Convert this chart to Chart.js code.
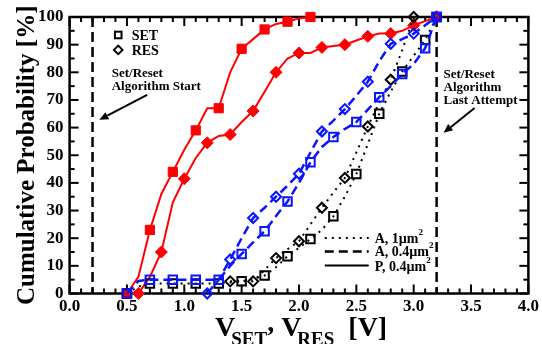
<!DOCTYPE html>
<html><head><meta charset="utf-8">
<script src="https://cdn.jsdelivr.net/npm/chart.js@4"></script>
<style>html,body{margin:0;padding:0;background:#fff}#wrap{width:542px;height:344px;position:relative}</style>
</head><body><div id="wrap"><canvas id="c" width="542" height="344"></canvas></div>
<script>
// ---- data ----
const xTicks = [0, 0.5, 1, 1.5, 2, 2.5, 3, 3.5, 4];
const yTicks = [0, 10, 20, 30, 40, 50, 60, 70, 80, 90, 100];
const algorithmLines = [0.2, 3.2];

// P, 0.4um^2 (red, solid)
const pSetV    = [0.5,0.6,0.7,0.8,0.9,1.0,1.1,1.2,1.3,1.4,1.5,1.6,1.7,1.8,1.9,2.0,2.1];
const pSetProb = [0,6,23,36,44,52,59,67,67,80,88.5,92,95.5,97.5,98.3,99.5,100];
const pResV    = [0.6,0.7,0.8,0.9,1.0,1.1,1.2,1.3,1.4,1.5,1.6,1.7,1.8,1.9,2.0,2.1,2.2,2.3,2.4,2.5,2.6,2.7,2.8,2.9,3.0,3.1,3.2];
const pResProb = [0,6,15,33,41.5,49,54.5,57,57.5,62,66,73,80,85,87,87,89,89.5,90,91.5,93,94,94,95,97,98.5,100];

// A, 0.4um^2 (blue, dashed)
const a04SetV    = [0.5,0.6,0.7,0.8,0.9,1.0,1.1,1.2,1.3,1.4,1.5,1.6,1.7,1.8,1.9,2.0,2.1,2.2,2.3,2.4,2.5,2.6,2.7,2.8,2.9,3.0,3.1,3.2];
const a04SetProb = [0,4.5,5,5,5,5,5,5,5,10,14.3,18.5,22.5,28,33.3,40,47.5,53,56.6,59.5,62,66.5,71,75,79.4,83,88.7,100];
const a04ResV    = [1.2,1.3,1.4,1.5,1.6,1.7,1.8,1.9,2.0,2.1,2.2,2.3,2.4,2.5,2.6,2.7,2.8,2.9,3.0,3.1,3.2];
const a04ResProb = [0,5,12.3,20,27.3,31,35,39,43.3,51,58.6,62.5,66.7,71.5,76.6,84,90.3,92,94,97,100];

// A, 1um^2 (black, dotted)
const a1SetV    = [0.5,0.6,0.7,0.8,0.9,1.0,1.1,1.2,1.3,1.4,1.5,1.6,1.7,1.8,1.9,2.0,2.1,2.2,2.3,2.4,2.5,2.6,2.7,2.8,2.9,3.0,3.1,3.2];
const a1SetProb = [0,2.5,3.6,3.6,3.6,3.6,3.6,3.6,3.6,4,4.4,5.2,6.5,9.5,13.5,16.5,19.7,23,27.9,35,43.2,54,65,73,80.3,86,91.7,100];
const a1ResV    = [1.4,1.5,1.6,1.7,1.8,1.9,2.0,2.1,2.2,2.3,2.4,2.5,2.6,2.7,2.8,2.9,3.0,3.1,3.2];
const a1ResProb = [4.4,4.4,4.4,8.5,12.8,16,18.9,25,31,36.5,41.8,51,60.4,69,77.3,88,100,100,100];

// ---- styling ----
const FF = '"Liberation Serif", "Times New Roman", serif';
const RED = '#ff0000', BLUE = '#0a14ff', BLACK = '#000000';
const markEvery = (R) => (ctx) => {
  const n = ctx.dataset.data.length;
  return (ctx.dataIndex % 2 === 0 || ctx.dataIndex === n - 1) ? R : 0;
};
function series(label, xs, ys, color, opts) {
  return Object.assign({
    label,
    data: xs.map((v, i) => ({x: v, y: ys[i]})),
    borderColor: color,
    pointBorderColor: color,
    pointBackgroundColor: 'rgba(0,0,0,0)',
    pointBorderWidth: 2,
    tension: 0,
    clip: false,
    pointHoverRadius: 0
  }, opts);
}
const datasets = [
  series('A04 SET', a04SetV, a04SetProb, BLUE, {borderWidth: 2.5, borderDash: [9,5], pointStyle: 'rect', pointRadius: markEvery(6)}),
  series('A04 RES', a04ResV, a04ResProb, BLUE, {borderWidth: 2.5, borderDash: [9,5], pointStyle: 'rectRot', pointRadius: markEvery(5)}),
  series('A1 SET', a1SetV, a1SetProb, BLACK, {borderWidth: 2, borderDash: [2,5], pointStyle: 'rect', pointRadius: markEvery(6)}),
  series('A1 RES', a1ResV, a1ResProb, BLACK, {borderWidth: 2, borderDash: [2,5], pointStyle: 'rectRot', pointRadius: markEvery(5)}),
  series('P SET', pSetV, pSetProb, RED, {borderWidth: 2, pointStyle: 'rect', pointRadius: markEvery(6.5), pointBackgroundColor: RED, pointBorderWidth: 1}),
  series('P RES', pResV, pResProb, RED, {borderWidth: 2, pointStyle: 'rectRot', pointRadius: markEvery(6), pointBackgroundColor: RED, pointBorderWidth: 1})
];

function line(ctx, x1, y1, x2, y2) { ctx.beginPath(); ctx.moveTo(x1, y1); ctx.lineTo(x2, y2); ctx.stroke(); }
function arrow(ctx, x1, y1, x2, y2) {
  ctx.lineWidth = 2; ctx.strokeStyle = '#000'; ctx.fillStyle = '#000';
  const ang = Math.atan2(y2 - y1, x2 - x1), L = 9, W = 4;
  const bx = x2 - L * Math.cos(ang), by = y2 - L * Math.sin(ang);
  line(ctx, x1, y1, bx, by);
  ctx.beginPath();
  ctx.moveTo(x2, y2);
  ctx.lineTo(bx + W * Math.sin(ang), by - W * Math.cos(ang));
  ctx.lineTo(bx - W * Math.sin(ang), by + W * Math.cos(ang));
  ctx.closePath(); ctx.fill();
}
function runs(ctx, parts, x, base) {
  for (const p of parts) {
    ctx.font = 'bold ' + p.size + 'px ' + FF;
    x += (p.dx || 0);
    ctx.fillText(p.t, x, base + (p.dy || 0));
    x += ctx.measureText(p.t).width;
  }
  return x;
}

const decor = {
  id: 'decor',
  beforeDatasetsDraw(chart) {
    const {ctx, chartArea: a, scales: {x, y}} = chart;
    ctx.save();
    ctx.strokeStyle = '#000';
    ctx.lineWidth = 2.5; ctx.setLineDash([10, 5]);
    for (const v of algorithmLines) { const px = x.getPixelForValue(v); line(ctx, px, a.top, px, a.bottom); }
    ctx.setLineDash([]);
    ctx.lineWidth = 2;
    for (let i = 0; i <= 40; i++) {
      const px = x.getPixelForValue(i / 10), L = i % 5 === 0 ? 9 : 5;
      line(ctx, px, a.bottom, px, a.bottom - L); line(ctx, px, a.top, px, a.top + L);
    }
    for (let i = 0; i <= 20; i++) {
      const py = y.getPixelForValue(i * 5), L = i % 2 === 0 ? 9 : 5;
      line(ctx, a.left, py, a.left + L, py); line(ctx, a.right, py, a.right - L, py);
    }
    ctx.lineWidth = 2.5;
    ctx.strokeRect(a.left, a.top, a.right - a.left, a.bottom - a.top);
    ctx.restore();
  },
  afterDraw(chart) {
    const {ctx, scales: {x, y}} = chart;
    const X = v => x.getPixelForValue(v), Y = v => y.getPixelForValue(v);
    ctx.save();
    ctx.fillStyle = '#000'; ctx.strokeStyle = '#000';
    ctx.textAlign = 'left'; ctx.textBaseline = 'alphabetic';
    // top-left marker legend
    ctx.lineWidth = 2;
    ctx.strokeRect(X(0.424) - 3.3, Y(93.5) - 3.3, 6.6, 6.6);
    const dx0 = X(0.424), dy0 = Y(88.1);
    ctx.beginPath(); ctx.moveTo(dx0 - 4.3, dy0); ctx.lineTo(dx0, dy0 - 4.3); ctx.lineTo(dx0 + 4.3, dy0); ctx.lineTo(dx0, dy0 + 4.3); ctx.closePath(); ctx.stroke();
    ctx.font = 'bold 14px ' + FF;
    ctx.fillText('SET', X(0.541), Y(91.6));
    ctx.fillText('RES', X(0.541), Y(86.3));
    // annotations
    ctx.font = 'bold 13px ' + FF;
    ctx.fillText('Set/Reset', X(0.367), Y(78.3));
    ctx.fillText('Algorithm Start', X(0.367), Y(73.5));
    arrow(ctx, X(0.676), Y(71.8), X(0.259), Y(62.8));
    ctx.font = 'bold 13px ' + FF;
    ctx.fillText('Set/Reset', X(3.26), Y(78.0));
    ctx.fillText('Algorithm', X(3.26), Y(73.1));
    ctx.fillText('Last Attempt', X(3.26), Y(68.4));
    arrow(ctx, X(3.531), Y(67.1), X(3.261), Y(58.1));
    // line-style legend
    const lx1 = X(2.225), lx2 = X(2.608), tx = X(2.66);
    const rows = [[[2,5], 2, 'A, 1\u00b5m', 20.1, 18.3], [[9,5], 2.5, 'A, 0.4\u00b5m', 15.2, 13.4], [[], 2, 'P, 0.4\u00b5m', 10.1, 8.2]];
    for (const [dash, w, txt, ly, ty] of rows) {
      ctx.setLineDash(dash); ctx.lineWidth = w;
      line(ctx, lx1, Y(ly), lx2, Y(ly));
      ctx.setLineDash([]);
      const ex = runs(ctx, [{t: txt, size: 14}], tx, Y(ty));
      runs(ctx, [{t: '2', size: 9}], ex, Y(ty) - 8);
    }
    // y title
    ctx.save();
    ctx.translate(34, (chart.chartArea.top + chart.chartArea.bottom) / 2);
    ctx.rotate(-Math.PI / 2);
    ctx.textAlign = 'center';
    ctx.font = 'bold 25px ' + FF;
    ctx.fillText('Cumulative Probability [%]', 0, 0);
    ctx.restore();
    // x title
    ctx.textAlign = 'left';
    runs(ctx, [
      {t: 'V', size: 28}, {t: 'SET', size: 19, dy: 9, dx: -4},
      {t: ',', size: 28, dy: -5}, {t: ' V', size: 28},
      {t: 'RES', size: 19, dy: 9, dx: -4}, {t: '  [V]', size: 28}
    ], 215, 336);
    ctx.restore();
  }
};

new Chart(document.getElementById('c'), {
  type: 'line',
  data: {datasets},
  options: {
    responsive: false, animation: false,
    layout: {padding: {top: 17, right: 13, left: 0, bottom: 0}},
    plugins: {legend: {display: false}, tooltip: {enabled: false}},
    scales: {
      x: {
        type: 'linear', min: xTicks[0], max: xTicks[xTicks.length - 1],
        afterBuildTicks: s => { s.ticks = xTicks.map(v => ({value: v})); },
        afterFit: s => { s.height = 50.5; },
        grid: {display: false, drawTicks: false}, border: {display: false},
        ticks: {padding: 3, color: '#000', font: {family: FF, size: 17, weight: 'bold'}, callback: v => Number(v).toFixed(1), maxRotation: 0}
      },
      y: {
        type: 'linear', min: yTicks[0], max: yTicks[yTicks.length - 1],
        afterBuildTicks: s => { s.ticks = yTicks.map(v => ({value: v})); },
        afterFit: s => { s.width = 69.6; },
        grid: {display: false, drawTicks: false}, border: {display: false},
        ticks: {padding: 6, color: '#000', font: {family: FF, size: 17, weight: 'bold'}}
      }
    }
  },
  plugins: [decor]
});
</script></body></html>
